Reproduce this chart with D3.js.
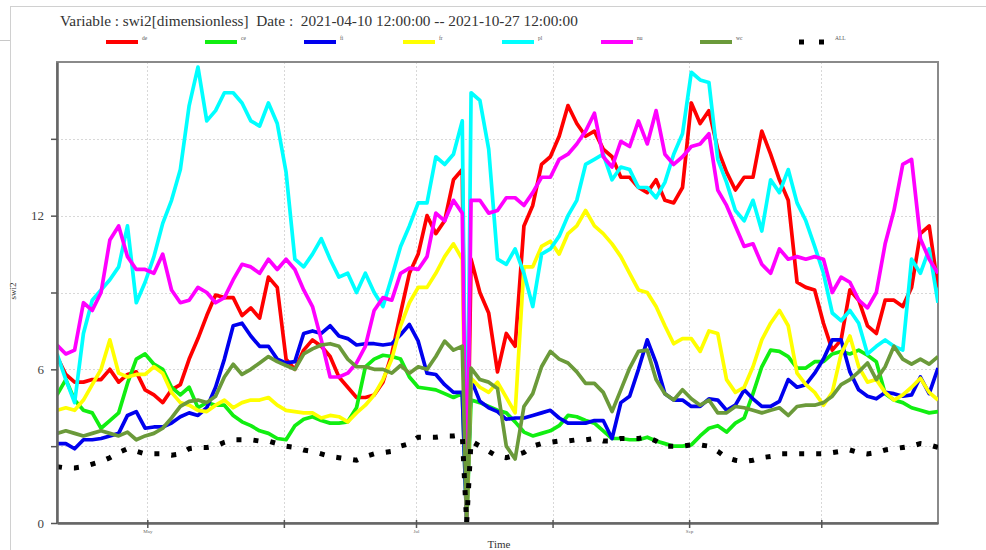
<!DOCTYPE html>
<html>
<head>
<meta charset="utf-8">
<script src="https://cdn.jsdelivr.net/npm/d3@7"></script>
<style>
  html, body { margin: 0; padding: 0; background: #fff; }
  svg { display: block; font-family: "Liberation Serif", "DejaVu Serif", serif; }
  text { white-space: pre; }
</style>
</head>
<body>
<svg id="chart" width="986" height="550"></svg>
<script>
// Daily soil water index (swi2) per region, sampled every second day.
// Day offsets are counted from 2021-04-10 12:00; day 93 is the gap recorded as 0.
const dayOffsets = [...d3.range(0, 93, 2), 93, ...d3.range(94, 201, 2)];

const seriesNames = ["de", "ce", "fi", "fr", "pl", "nu", "wc", "ALL"];
const seriesColors = ["#ff0000", "#11ee11", "#0000ee", "#ffff00", "#00ffff", "#ff00ff", "#6b9a3a", "#000000"];

const de = [6.5, 5.8, 5.5, 5.5, 5.6, 5.6, 6.0, 5.5, 5.8, 5.9, 5.2, 5.0, 4.7, 5.2, 5.4, 6.4, 7.2, 8.1, 8.9, 8.8, 8.8,
  8.1, 8.4, 8.0, 9.6, 9.2, 6.4, 6.0, 6.75, 7.15, 6.9, 6.5, 5.7, 5.3, 4.9, 4.9, 5.0, 5.5, 6.6, 8.2, 9.75,
  10.5, 12.0, 11.3, 11.8, 13.4, 13.8,
  0,
  10.3, 9.0, 8.2, 5.9, 7.4, 6.9, 11.6, 12.4, 14.0, 14.3, 15.1, 16.3, 15.6, 15.1,
  15.3, 14.6, 14.3, 13.5, 13.5, 13.1, 12.9, 13.4, 12.6, 12.5, 13.1, 16.4, 15.6, 16.1, 14.6, 13.7, 13.0, 13.5, 13.5, 15.3,
  14.4, 13.4, 12.6, 9.4, 9.2, 9.1, 7.8, 6.75, 7.15, 9.1, 8.7, 7.7, 7.4, 8.7, 8.7, 8.45, 9.2, 11.3, 11.6, 9.2];

const ce = [5.0, 5.6, 4.8, 4.4, 4.3, 3.7, 4.0, 4.3, 5.45, 6.4, 6.6, 6.2, 6.0, 5.3, 5.0, 5.3, 4.5, 4.7, 4.6, 4.6, 4.2,
  3.95, 3.8, 3.6, 3.5, 3.3, 3.25, 3.8, 4.05, 4.15, 4.0, 3.9, 3.9, 3.95, 4.5, 6.1, 6.4, 6.55, 6.5, 6.4, 5.7,
  5.3, 5.25, 5.2, 5.05, 4.9, 5.05,
  0,
  4.8, 4.7, 4.55, 4.4, 4.3, 3.95, 3.55, 3.4, 3.5, 3.6, 3.8, 4.2, 4.15, 4.0,
  3.9, 3.6, 3.3, 3.3, 3.25, 3.25, 3.35, 3.2, 3.1, 3.0, 3.0, 3.05, 3.4, 3.7, 3.8, 3.55, 3.9, 4.1, 5.05, 6.1,
  6.75, 6.7, 6.5, 6.05, 6.05, 6.3, 6.3, 6.6, 6.7, 6.6, 6.75, 6.55, 6.3, 5.05, 4.8, 4.7, 4.5, 4.4, 4.3, 4.35];

const fi = [3.1, 3.1, 2.9, 3.25, 3.25, 3.3, 3.4, 3.5, 4.2, 4.35, 3.7, 3.75, 3.75, 3.9, 4.15, 4.3, 4.2, 4.5, 5.3, 6.4, 7.7,
  7.8, 7.3, 6.9, 6.9, 6.4, 6.25, 6.3, 7.4, 7.5, 7.4, 7.7, 7.3, 7.2, 6.95, 7.0, 7.0, 6.95, 7.0, 7.35, 7.75,
  7.1, 5.85, 5.8, 5.4, 5.1, 5.1,
  0,
  5.6, 4.75, 4.5, 4.35, 4.05, 4.1, 4.1, 4.2, 4.3, 4.4, 4.1, 3.9, 3.9, 3.9,
  4.0, 4.0, 3.3, 4.7, 4.95, 6.0, 7.15, 6.25, 5.05, 4.8, 4.8, 4.55, 4.55, 4.85, 4.8, 4.4, 4.6, 5.2, 4.85, 4.55,
  4.55, 4.75, 5.6, 5.3, 5.4, 5.85, 6.4, 7.15, 7.15, 5.9, 5.2, 4.95, 4.85, 5.1, 5.05, 4.95, 5.0, 5.7, 5.05, 6.05];

const fr = [4.4, 4.5, 4.4, 4.8, 5.4, 6.0, 7.15, 5.85, 5.7, 5.8, 5.8, 6.1, 5.85, 5.1, 4.7, 4.6, 4.4, 4.35, 4.6, 4.8, 4.5,
  4.7, 4.8, 4.8, 4.9, 4.6, 4.4, 4.35, 4.3, 4.3, 4.1, 4.2, 4.15, 3.95, 4.3, 4.6, 5.0, 5.6, 6.4, 7.7, 8.6,
  9.2, 9.2, 9.75, 10.4, 10.9, 10.3,
  0,
  5.65, 5.3, 5.1, 5.5, 4.9, 4.3, 10.0, 10.0, 10.8, 11.0, 10.5, 11.3, 11.6, 12.2,
  11.6, 11.3, 10.9, 10.4, 9.75, 9.1, 9.0, 8.45, 7.7, 7.0, 7.2, 7.2, 6.7, 7.5, 7.4, 5.6, 5.1, 5.3, 6.1, 7.15,
  7.8, 8.3, 7.7, 5.85, 5.4, 5.1, 4.6, 5.1, 6.6, 7.3, 6.1, 5.5, 5.6, 5.1, 4.8, 5.0, 5.3, 5.65, 5.1, 4.8];

const pl = [6.6, 5.6, 4.7, 7.4, 8.7, 9.1, 9.5, 10.0, 11.6, 8.6, 9.4, 10.4, 11.7, 12.6, 13.8, 16.3, 17.8, 15.7, 16.1, 16.8, 16.8,
  16.4, 15.7, 15.5, 16.4, 15.6, 13.7, 10.3, 10.0, 10.5, 11.1, 10.3, 9.6, 9.75, 9.0, 9.75, 9.0, 8.45, 9.6, 10.8, 11.6,
  12.5, 12.5, 14.3, 14.0, 14.4, 15.7,
  0,
  16.8, 16.5, 14.6, 10.3, 10.1, 10.7, 9.75, 8.45, 10.5, 10.7, 11.2, 12.0, 12.6, 14.0,
  14.2, 14.4, 13.4, 13.9, 13.8, 13.1, 13.1, 12.7, 13.3, 14.4, 15.2, 17.6, 17.3, 17.2, 14.2, 13.3, 12.2, 11.8, 12.6, 11.4,
  13.4, 12.9, 13.8, 12.5, 11.8, 10.8, 9.75, 8.2, 7.9, 8.3, 7.8, 6.6, 6.9, 7.15, 6.9, 6.75, 10.3, 9.75, 10.7, 8.6];

const nu = [6.95, 6.6, 6.75, 8.6, 8.3, 9.0, 11.05, 11.6, 10.4, 9.9, 9.9, 9.75, 10.5, 9.1, 8.6, 8.7, 9.2, 9.0, 8.6, 8.8, 9.5,
  10.1, 10.0, 9.75, 10.3, 9.9, 10.3, 9.9, 9.1, 8.45, 7.15, 5.7, 5.7, 5.85, 6.25, 6.9, 8.3, 8.8, 8.7, 9.75, 9.95,
  9.9, 10.4, 12.1, 11.8, 12.6, 12.1,
  0,
  12.6, 12.6, 12.1, 12.2, 12.7, 12.7, 12.4, 12.9, 13.5, 13.5, 14.2, 14.4, 14.8, 15.3,
  16.0, 14.3, 13.9, 14.9, 14.7, 15.7, 14.8, 16.1, 14.4, 14.0, 14.3, 14.7, 14.8, 15.2, 13.0, 12.4, 11.6, 10.8, 10.9, 10.1,
  9.75, 10.7, 10.3, 10.4, 10.3, 10.4, 10.3, 9.0, 9.6, 9.4, 8.7, 8.4, 9.0, 10.9, 12.2, 14.0, 14.2, 11.1, 10.3, 9.75];

const wc = [3.5, 3.6, 3.5, 3.4, 3.5, 3.6, 3.5, 3.4, 3.55, 3.25, 3.4, 3.5, 3.7, 4.1, 4.55, 4.75, 4.8, 4.7, 4.95, 5.7, 6.2,
  5.8, 6.0, 6.25, 6.5, 6.3, 6.15, 6.0, 6.6, 6.8, 6.95, 7.0, 6.9, 6.4, 6.1, 6.1, 6.0, 6.0, 5.85, 6.15, 5.85,
  6.1, 6.0, 6.5, 7.1, 6.75, 6.9,
  0,
  6.05, 5.6, 5.5, 5.25, 3.0, 2.5, 4.55, 5.05, 6.1, 6.7, 6.4, 6.25, 5.9, 5.45,
  5.45, 5.1, 4.35, 5.2, 6.05, 6.7, 6.75, 5.6, 5.05, 4.8, 5.2, 4.85, 4.6, 4.8, 4.3, 4.3, 4.55, 4.5, 4.4, 4.3,
  4.4, 4.5, 4.2, 4.55, 4.6, 4.6, 4.7, 4.95, 5.4, 5.6, 5.9, 6.25, 5.6, 6.1, 6.9, 6.4, 6.2, 6.4, 6.2, 6.5];

const all = [2.2, 2.15, 2.15, 2.2, 2.3, 2.4, 2.55, 2.75, 2.9, 2.8, 2.7, 2.7, 2.7, 2.65, 2.7, 2.9, 2.95, 2.95, 3.0, 3.15, 3.25,
  3.25, 3.25, 3.2, 3.2, 3.1, 3.0, 2.95, 2.85, 2.8, 2.7, 2.6, 2.55, 2.5, 2.45, 2.6, 2.7, 2.75, 2.8, 3.0, 3.1,
  3.35, 3.35, 3.35, 3.4, 3.4, 3.45,
  0,
  3.2, 3.0, 2.8, 2.6, 2.55, 2.65, 2.75, 3.0, 3.1, 3.15, 3.2, 3.2, 3.25, 3.25,
  3.3, 3.2, 3.2, 3.3, 3.3, 3.3, 3.35, 3.2, 3.0, 3.0, 3.0, 3.05, 3.05, 3.0, 2.8, 2.55, 2.45, 2.4, 2.45, 2.55,
  2.6, 2.7, 2.7, 2.7, 2.7, 2.7, 2.7, 2.75, 2.8, 2.85, 2.75, 2.7, 2.75, 2.85, 2.9, 2.95, 3.0, 3.1, 3.05, 2.95];

const seriesValues = [de, ce, fi, fr, pl, nu, wc, all];

const yTicks = [0, 3, 6, 9, 12, 15];
const yTickLabels = { 0: "0", 6: "6", 12: "12" };
const xTickLabels = { 4: "May", 6: "Jul", 8: "Sep" };   // keyed by month index (0-based)

const titleText = "Variable : swi2[dimensionless]  Date :  2021-04-10 12:00:00 -- 2021-10-27 12:00:00";

// ---------------------------------------------------------------
const startDate = new Date(2021, 3, 10, 12);
const endDate = new Date(2021, 9, 27, 12);
const dates = dayOffsets.map(d => d3.timeHour.offset(startDate, d * 24));

const svg = d3.select("#chart");
const plot = { left: 57, right: 938, top: 62, bottom: 523 };

const x = d3.scaleTime().domain([startDate, endDate]).range([plot.left, plot.right]);
const y = d3.scaleLinear().domain([0, 18]).range([plot.bottom, plot.top]);

// page frame lines
svg.append("line").attr("x1", 10).attr("x2", 986).attr("y1", 6.5).attr("y2", 6.5)
  .attr("stroke", "#d0d0d0").attr("stroke-width", 1);
svg.append("line").attr("x1", 10.5).attr("x2", 10.5).attr("y1", 6).attr("y2", 550)
  .attr("stroke", "#d0d0d0").attr("stroke-width", 1);
svg.append("line").attr("x1", 0).attr("x2", 10).attr("y1", 40.5).attr("y2", 40.5)
  .attr("stroke", "#c8c8c8").attr("stroke-width", 1);

// title
svg.append("text").attr("x", 60).attr("y", 26).attr("font-size", 15.3).attr("fill", "#333")
  .text(titleText);

// legend
const legendX0 = 106, legendStep = 99, legendY = 42;
seriesNames.forEach((name, i) => {
  const lx = legendX0 + i * legendStep;
  const g = svg.append("g");
  if (name === "ALL") {
    g.append("line").attr("x1", lx).attr("x2", lx + 26).attr("y1", legendY).attr("y2", legendY)
      .attr("stroke", seriesColors[i]).attr("stroke-width", 5).attr("stroke-dasharray", "5 15");
    g.append("text").attr("x", lx + 36).attr("y", legendY - 2).attr("font-size", 5.5).attr("fill", "#555").text(name);
  } else {
    g.append("line").attr("x1", lx).attr("x2", lx + 32).attr("y1", legendY).attr("y2", legendY)
      .attr("stroke", seriesColors[i]).attr("stroke-width", 4);
    g.append("text").attr("x", lx + 36).attr("y", legendY - 2).attr("font-size", 5.5).attr("fill", "#555").text(name);
  }
});

// grid
const monthTicks = d3.timeMonth.range(d3.timeMonth.ceil(startDate), endDate);
const grid = svg.append("g").attr("stroke", "#d8d8d8").attr("stroke-width", 1).attr("stroke-dasharray", "2 2");
yTicks.filter(t => t > 0).forEach(t => {
  grid.append("line").attr("x1", plot.left).attr("x2", plot.right)
    .attr("y1", Math.round(y(t)) + 0.5).attr("y2", Math.round(y(t)) + 0.5);
});
monthTicks.forEach(m => {
  grid.append("line").attr("x1", Math.round(x(m)) + 0.5).attr("x2", Math.round(x(m)) + 0.5)
    .attr("y1", plot.top).attr("y2", plot.bottom);
});

// plot frame (top / right)
svg.append("rect").attr("x", plot.left).attr("y", plot.top)
  .attr("width", plot.right - plot.left).attr("height", plot.bottom - plot.top)
  .attr("fill", "none").attr("stroke", "#8a8a8a").attr("stroke-width", 2);

// series
svg.append("clipPath").attr("id", "plotclip").append("rect")
  .attr("x", plot.left).attr("y", plot.top - 2)
  .attr("width", plot.right - plot.left).attr("height", plot.bottom - plot.top + 2);

const lineGen = d3.line()
  .x((d, i) => x(dates[i]))
  .y(d => y(d));

const lines = svg.append("g").attr("clip-path", "url(#plotclip)");
seriesValues.forEach((vals, i) => {
  const path = lines.append("path").datum(vals)
    .attr("d", lineGen)
    .attr("fill", "none")
    .attr("stroke", seriesColors[i]);
  if (seriesNames[i] === "ALL") {
    path.attr("stroke-width", 5).attr("stroke-dasharray", "5 12");
  } else {
    path.attr("stroke-width", 3.7).attr("stroke-linejoin", "round");
  }
});

// axes
const xAxis = d3.axisBottom(x).tickValues(monthTicks).tickSize(5).tickSizeOuter(0)
  .tickFormat(d => xTickLabels[d.getMonth()] || "");
const gx = svg.append("g").attr("transform", `translate(0,${plot.bottom})`).call(xAxis);
gx.select(".domain").attr("stroke", "#666").attr("stroke-width", 2.5);
gx.selectAll(".tick line").attr("stroke", "#555").attr("stroke-width", 1.5).attr("y1", -3);
gx.selectAll(".tick text").attr("font-size", 5).attr("fill", "#666").attr("dy", "0.4em")
  .attr("font-family", "Liberation Serif, serif");

const yAxis = d3.axisLeft(y).tickValues(yTicks).tickSize(6).tickSizeOuter(0)
  .tickFormat(d => yTickLabels[d] || "");
const gy = svg.append("g").attr("transform", `translate(${plot.left},0)`).call(yAxis);
gy.select(".domain").attr("stroke", "#666").attr("stroke-width", 2.5);
gy.selectAll(".tick line").attr("stroke", "#555").attr("stroke-width", 1.5);
gy.selectAll(".tick text").attr("font-size", 13).attr("fill", "#444").attr("x", -13)
  .attr("font-family", "Liberation Serif, serif");

// axis titles
svg.append("text").attr("x", 499).attr("y", 548).attr("text-anchor", "middle")
  .attr("font-size", 11).attr("fill", "#333").text("Time");
svg.append("text").attr("transform", "translate(16,291) rotate(-90)").attr("text-anchor", "middle")
  .attr("font-size", 9).attr("fill", "#333").text("swi2");
</script>
</body>
</html>
